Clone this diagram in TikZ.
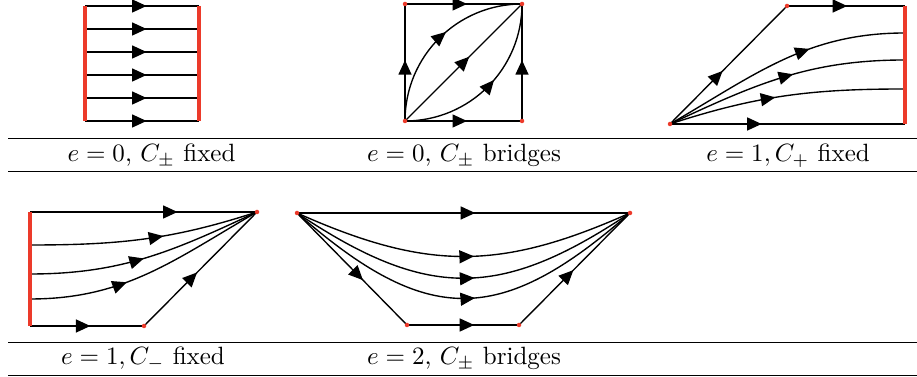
\documentclass[tikz,border=0pt]{standalone}
\usepackage{amsmath, amssymb}
\usetikzlibrary{arrows.meta, decorations.markings}
\definecolor{FixRed}{RGB}{236, 58, 42}

\begin{document}
\begin{tikzpicture}[x=0.4pt, y=0.4pt, >={Triangle[length=5.8pt, width=5.2pt]}]
    \tikzstyle{orbit} = [line width=0.55pt]
    \tikzstyle{flow} = [orbit, postaction={decorate, decoration={markings, mark=at position #1 with {\arrow{>}}}}]
    \tikzstyle{fixed} = [line width=1.3pt, color=FixRed]
    \tikzstyle{rule} = [line width=0.5pt]
    \tikzstyle{caption} = [anchor=base, inner sep=0pt]

    \useasboundingbox (0,0) rectangle (917,377);

    % e = 0, C fixed
    \foreach \i in {0,...,5} {
      \coordinate (wl\i) at (85, 371-23*\i);
      \coordinate (wr\i) at (199, 371-23*\i);
      \draw [flow=0.54] (wl\i) -- (wr\i);
    }
    \draw [fixed] (wl0) -- (wl5);
    \draw [fixed] (wr0) -- (wr5);

    % e = 0, C bridges
    \coordinate (sqA) at (405, 256);
    \coordinate (sqB) at (522, 256);
    \coordinate (sqC) at (522, 373);
    \coordinate (sqD) at (405, 373);
    \draw [flow=0.53] (sqA) -- (sqB);
    \draw [flow=0.52] (sqB) -- (sqC);
    \draw [flow=0.52] (sqA) -- (sqD);
    \draw [flow=0.53] (sqD) -- (sqC);
    \draw [flow=0.55] (sqA) -- (sqC);
    \draw [flow=0.55] (sqA) to[bend left=45] (sqC);
    \draw [flow=0.55] (sqA) to[bend right=45] (sqC);
    \foreach \p in {sqA, sqB, sqC, sqD}
      \fill [FixRed] (\p) circle (0.9pt);

    % e = 1, C+ fixed
    \coordinate (pA) at (670, 253);
    \coordinate (pT) at (787, 371);
    \coordinate (pr0) at (905, 371);
    \coordinate (pr1) at (905, 344);
    \coordinate (pr2) at (905, 317);
    \coordinate (pr3) at (905, 288);
    \coordinate (pr4) at (905, 253);
    \draw [flow=0.39] (pA) -- (pr4);
    \draw [flow=0.45] (pA) -- (pT);
    \draw [flow=0.51] (pT) -- (pr0);
    \draw [flow=0.62] (pA) to[out=30, in=180] (pr1);
    \draw [flow=0.54] (pA) to[out=25, in=180] (pr2);
    \draw [flow=0.455] (pA) to[out=18, in=180] (pr3);
    \draw [fixed] (pr0) -- (pr4);
    \foreach \p in {pA, pT}
      \fill [FixRed] (\p) circle (0.9pt);

    % e = 1, C- fixed
    \coordinate (mP) at (257, 165);
    \coordinate (mB) at (144, 51);
    \coordinate (ml0) at (30, 165);
    \coordinate (ml1) at (30, 132);
    \coordinate (ml2) at (30, 103);
    \coordinate (ml3) at (30, 78);
    \coordinate (ml4) at (30, 51);
    \draw [flow=0.65] (ml0) -- (mP);
    \draw [flow=0.53] (ml4) -- (mB);
    \draw [flow=0.47] (mB) -- (mP);
    \draw [flow=0.58] (ml1) to[out=0, in=198] (mP);
    \draw [flow=0.485] (ml2) to[out=0, in=205] (mP);
    \draw [flow=0.40] (ml3) to[out=0, in=210] (mP);
    \draw [fixed] (ml0) -- (ml4);
    \foreach \p in {mP, mB}
      \fill [FixRed] (\p) circle (0.9pt);

    % e = 2, C bridges
    \coordinate (bL) at (297, 164);
    \coordinate (bR) at (630, 164);
    \coordinate (bM) at (407, 52);
    \coordinate (bN) at (519, 52);
    \draw [flow=0.535] (bL) -- (bR);
    \draw [flow=0.53] (bL) .. controls +(130,-58) and +(-130,-58) .. (bR);
    \draw [flow=0.53] (bL) .. controls +(130,-87) and +(-130,-87) .. (bR);
    \draw [flow=0.53] (bL) .. controls +(130,-114) and +(-130,-114) .. (bR);
    \draw [flow=0.6] (bL) -- (bM);
    \draw [flow=0.6] (bM) -- (bN);
    \draw [flow=0.49] (bN) -- (bR);
    \foreach \p in {bL, bR, bM, bN}
      \fill [FixRed] (\p) circle (0.9pt);

    % table rules and captions
    \coordinate (ra) at (8, 238.7);
    \coordinate (rb) at (917, 238.7);
    \coordinate (rc) at (8, 205.3);
    \coordinate (rd) at (917, 205.3);
    \coordinate (re) at (8, 34.3);
    \coordinate (rf) at (917, 34.3);
    \coordinate (rg) at (8, 1.7);
    \coordinate (rh) at (917, 1.7);
    \draw [rule] (ra) -- (rb);
    \draw [rule] (rc) -- (rd);
    \draw [rule] (re) -- (rf);
    \draw [rule] (rg) -- (rh);

    \node [caption] (capA) at (151.5, 215) {$e=0$, $C_\pm$ fixed};
    \node [caption] (capB) at (464, 215) {$e=0$, $C_\pm$ bridges};
    \node [caption] (capC) at (788, 215) {$e=1, C_+$ fixed};
    \node [caption] (capD) at (143, 12) {$e=1, C_-$ fixed};
    \node [caption] (capE) at (464, 12) {$e=2$, $C_\pm$ bridges};
\end{tikzpicture}
\end{document}
